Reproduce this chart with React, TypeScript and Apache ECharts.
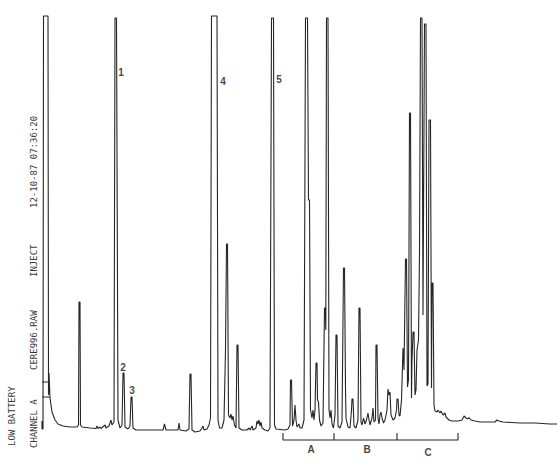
import React, { useEffect, useRef } from "react";
import * as echarts from "echarts";

// Detector response (baseline = 0) vs. retention position
const traceStart: number[][] = [
  [42, 9], [42, 1], [43, 1], [43.5, 414], [48, 414], [48.5, 35], [49, 57], [50, 32],
  [52, 18], [55, 10], [58, 6], [63, 4], [70, 3], [77, 3], [78.5, 5], [79, 128], [80, 128],
  [80.5, 5], [82, 3], [90, 2], [96, 1.5], [97, 4], [98, 1.5], [100, 3], [101, 1.5],
  [105, 5], [106, 2], [109, 4], [111, 10], [112, 5], [114, 8], [115, 412], [116.5, 412],
  [118, 10], [120, 2], [122, 5], [123, 57], [124, 57], [125, 3], [128, 1], [130, 4],
  [131, 33], [132, 33], [133, 2], [136, 0],
];
const traceMid: number[][] = [
  [145, 0], [155, 0], [163, 0], [164.5, 6], [166, 0], [178, 0], [179, 7], [180, 0],
  [186, -1], [189, 1], [190, 56], [191, 56], [192, 0], [195, -2], [200, -1], [202, 2],
  [203, 4], [204, 0], [207, 1], [209, 5], [210.5, 12], [211.5, 414], [217, 414], [218, 10],
  [219.5, 2], [222, 2], [224, 10], [225.5, 80], [226.5, 186], [227.5, 186], [228.5, 15],
  [230, 12], [231, 16], [232, 10], [233, 14], [234.5, 5], [236, 2], [237, 85], [238, 85],
  [239, 2], [242, 0], [247, 0], [249, 2], [250, 0], [252, 4], [253, 0], [256, 2], [257, 9],
  [258, 6], [259, 10], [260, 4], [261, 8], [262, 2], [265, 0], [268, -1], [270, 2],
  [271.5, 412], [273.5, 412], [274.5, 5], [276, 1],
];
const traceLate: number[][] = [
  [285, 0], [288, 1], [290, 5], [290.5, 50], [291.5, 50], [292.5, 4], [294, 10], [295, 25],
  [296, 10], [297, 3], [299, 6], [300, 2], [302, 2], [304, 10], [305.5, 412], [307.5, 412],
  [308.5, 230], [309.5, 230], [310.5, 20], [312, 12], [313, 20], [314, 10], [315, 20],
  [316, 67], [317, 67], [317.5, 30], [318.5, 28], [319.5, 10], [321, 4], [323, 7],
  [324.5, 122], [325.3, 122], [325.8, 100], [326.5, 412], [328, 412], [329, 20], [330, 12],
  [331, 20], [332, 6], [333.5, 2], [335, 15], [336, 95], [337, 95], [338, 4], [340, 2],
  [342, 8], [343.5, 162], [344.5, 162], [345.5, 42], [346, 12], [348, 3], [350, 2],
  [351.5, 20], [352, 31], [353, 31], [354, 4], [356, 2], [358, 10], [359, 122], [360, 122],
  [361, 8], [362, 5], [363.5, 12], [365, 6], [366.5, 10], [368, 17], [369, 10], [370, 5],
  [372, 12], [373, 22], [374, 8], [375.5, 10], [376, 85], [377, 85], [378, 12], [379, 6],
  [380, 15], [381, 18], [382, 12], [383.5, 7], [385, 10], [387, 20], [388, 41], [389, 35],
  [390, 38], [391, 15], [393, 10], [395, 12], [396.5, 20], [397, 31], [398, 31], [399, 15],
  [400, 14],
];
const traceEnd: number[][] = [
  [401.5, 30], [403, 82], [404, 60], [405.5, 171], [406.5, 171], [407.5, 43], [408.5, 50],
  [409.5, 317], [410.5, 317], [411.5, 32], [412, 70], [413, 98], [414, 98], [415, 35],
  [416, 40], [417, 80], [418.5, 90], [419.5, 177], [420.5, 412], [422, 412], [423, 115],
  [424.5, 406], [426, 406], [427, 44], [428, 46], [429, 310], [430.5, 310], [431.5, 42],
  [432, 147], [433, 147], [434, 25], [435, 19], [437, 18], [438, 20], [440, 17], [441, 19],
  [443, 15], [445, 17], [446, 13], [449, 10], [452, 9], [458, 9], [462, 10], [464, 14],
  [466, 12], [468, 11], [469, 12.5], [471, 10], [475, 9], [480, 8], [490, 8], [495, 8],
  [497, 10], [499, 9], [503, 8], [520, 7], [535, 7], [550, 6], [557, 6],
];

// Event marks at injection
const eventMarks: (number[] | null)[] = [[42, 48], [50, 48], null, [42, 33], [50, 33]];

// Fraction bracket (A, B, C)
const bracketEdges = [283, 334, 397, 458];
const fractionLabels = ["A", "B", "C"];
const fractionLabelPos: number[][] = [[311, -19], [367, -19], [428, -22]];

// Peak numbers
const peakLabels = ["1", "2", "3", "4", "5"];
const peakLabelPos: number[][] = [[121, 358], [123, 63], [132, 40], [223, 349], [279, 351]];

const headerCol2 = [
  { text: "CHANNEL A", start: 448 },
  { text: "CERE996.RAW", start: 370 },
  { text: "INJECT", start: 277 },
  { text: "12-10-87 07:36:20", start: 208 },
];

export default function App() {
  const ref = useRef<HTMLDivElement>(null);
  useEffect(() => {
    if (!ref.current) return;
    const chart = echarts.init(ref.current, null, { renderer: "svg" });
    const trace = [...traceStart, ...traceMid, ...traceLate, ...traceEnd];
    const bracket: (number[] | null)[] = [
      [bracketEdges[0], -3], [bracketEdges[0], -10], [bracketEdges[3], -10], [bracketEdges[3], -3],
      null, [bracketEdges[1], -10], [bracketEdges[1], -3],
      null, [bracketEdges[2], -10], [bracketEdges[2], -3],
    ];
    const mono = '"DejaVu Sans Mono", monospace';
    const txt = (text: string, x: number, y: number) => ({
      type: "text", x, y, rotation: Math.PI / 2,
      style: { text, fontSize: 9, fontFamily: mono, fill: "#3a3a3a", textAlign: "left", textVerticalAlign: "middle" },
    });
    chart.setOption({
      animation: false,
      backgroundColor: "#ffffff",
      grid: { left: 0, right: 0, top: 0, bottom: 0 },
      xAxis: { type: "value", min: 0, max: 557, show: false },
      yAxis: { type: "value", min: -32, max: 430, show: false },
      graphic: [
        txt("LOW BATTERY", 12, 446),
        ...headerCol2.map((h) => txt(h.text, 34, h.start)),
      ],
      series: [
        {
          type: "line", data: trace, showSymbol: false, symbol: "none",
          lineStyle: { color: "#262626", width: 1.1 }, silent: true,
        },
        {
          type: "line", data: eventMarks, showSymbol: false, symbol: "none", connectNulls: false,
          lineStyle: { color: "#262626", width: 1 }, silent: true,
        },
        {
          type: "line", data: bracket, showSymbol: false, symbol: "none", connectNulls: false,
          lineStyle: { color: "#262626", width: 1.1 }, silent: true,
        },
        {
          type: "scatter", symbolSize: 1, itemStyle: { color: "rgba(0,0,0,0)" },
          data: peakLabelPos.map((p, i) => ({ value: p, name: peakLabels[i] })),
          label: { show: true, position: "inside", formatter: "{b}", color: "#111", fontSize: 10, fontWeight: "bold", fontFamily: "Liberation Sans, Arial, sans-serif" },
          silent: true,
        },
        {
          type: "scatter", symbolSize: 1, itemStyle: { color: "rgba(0,0,0,0)" },
          data: fractionLabelPos.map((p, i) => ({ value: p, name: fractionLabels[i] })),
          label: { show: true, position: "inside", formatter: "{b}", color: "#111", fontSize: 10, fontWeight: "bold", fontFamily: "Liberation Sans, Arial, sans-serif" },
          silent: true,
        },
      ],
    });
    return () => chart.dispose();
  }, []);
  return (
    <div
      ref={ref}
      style={{ position: "fixed", left: 0, top: 0, width: 557, height: 462, background: "#fff" }}
    />
  );
}
